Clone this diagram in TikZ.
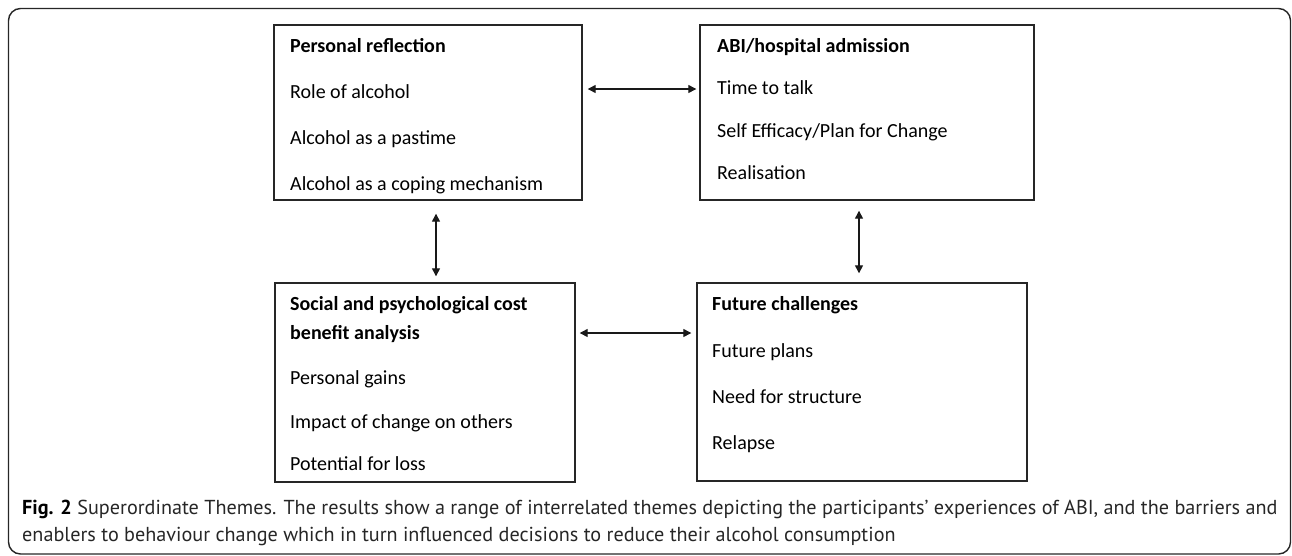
\documentclass[tikz,border=0pt]{standalone}
\usepackage{fontspec}
\setmainfont{Carlito}
\newfontfamily\capfont{PT Sans}
\usetikzlibrary{arrows.meta}
\begin{document}
\begin{tikzpicture}[x=1pt,y=-1pt,
  themebox/.style={draw=black!85, line width=1.4pt, inner sep=0pt},
  item/.style={anchor=base west, inner sep=0pt, font=\fontsize{20}{24}\selectfont},
  head/.style={anchor=base west, inner sep=0pt, font=\fontsize{20}{24}\selectfont\bfseries},
  captext/.style={anchor=base west, inner sep=0pt, text=black!85, font=\capfont\fontsize{20.2}{24}\selectfont},
  link/.style={{Triangle[length=8pt,width=8pt]}-{Triangle[length=8pt,width=8pt]}, line width=1.3pt, draw=black!90},
]
\useasboundingbox (0,0) rectangle (1292,555);
\draw[line width=1.4pt, rounded corners=12pt, draw=black!85] (8.5,8.5) rectangle (1290.5,554);

% boxes
\node[themebox, minimum width=308pt, minimum height=175pt] (pr)  at (428,112.5) {};
\node[themebox, minimum width=334pt, minimum height=175pt] (abi) at (867,112.5) {};
\node[themebox, minimum width=300pt, minimum height=199pt] (sp)  at (425,382.5) {};
\node[themebox, minimum width=330pt, minimum height=198pt] (fc)  at (862,382) {};

% texts
\node[head] (prt) at (290,52)  {Personal reflection};
\node[item] (pr1) at (290,98)  {Role of alcohol};
\node[item] (pr2) at (290,144) {Alcohol as a pastime};
\node[item] (pr3) at (290,190) {Alcohol as a coping mechanism};

\node[head] (abit) at (717,52)    {ABI/hospital admission};
\node[item] (abi1) at (717,94.5)  {Time to talk};
\node[item] (abi2) at (717,137)   {Self Efficacy/Plan for Change};
\node[item] (abi3) at (717,179.5) {Realisation};

\node[head] (spt)  at (290,310) {Social and psychological cost};
\node[head] (spt2) at (290,339) {benefit analysis};
\node[item] (sp1)  at (290,384) {Personal gains};
\node[item] (sp2)  at (290,428) {Impact of change on others};
\node[item] (sp3)  at (290,470) {Potential for loss};

\node[head] (fct) at (712,310) {Future challenges};
\node[item] (fc1) at (712,357) {Future plans};
\node[item] (fc2) at (712,403) {Need for structure};
\node[item] (fc3) at (712,449) {Relapse};

% connectors
\coordinate (r1) at (0,89);
\coordinate (r2) at (0,333);
\coordinate (c1) at (436,0);
\coordinate (c2) at (859,0);
\draw[link, shorten <=5pt, shorten >=3pt] (pr.east |- r1) -- (abi.west |- r1);
\draw[link, shorten <=13pt, shorten >=6pt] (pr.south -| c1) -- (sp.north -| c1);
\draw[link, shorten <=10pt, shorten >=9pt] (abi.south -| c2) -- (fc.north -| c2);
\draw[link, shorten <=4pt, shorten >=5pt] (sp.east |- r2) -- (fc.west |- r2);

% caption
\node[captext] (capa) at (22,514) {{\bfseries\color{black}Fig. 2} Superordinate Themes. The results show a range of interrelated themes depicting the participants’ experiences of ABI, and the barriers and};
\node[captext] (capb) at (22,541) {enablers to behaviour change which in turn influenced decisions to reduce their alcohol consumption};
\end{tikzpicture}
\end{document}
